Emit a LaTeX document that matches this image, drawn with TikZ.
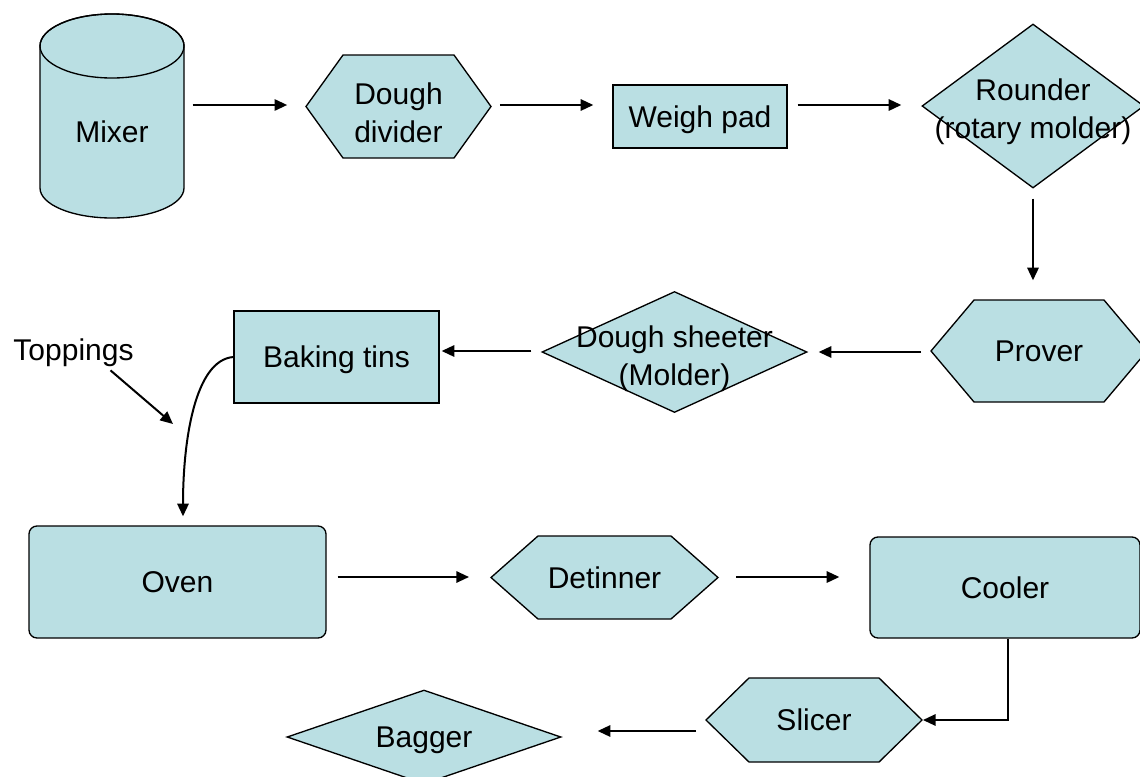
\documentclass[tikz,border=0pt]{standalone}
\usepackage{fontspec}
\setmainfont{Liberation Sans}
\usetikzlibrary{shapes.geometric,shapes.symbols,arrows.meta,calc}
\definecolor{tank}{RGB}{186,223,227}

\tikzset{every picture/.style={line width=0.75pt}}
\tikzset{
  unitbox/.style={draw, fill=tank, line width=1pt, inner sep=0pt, align=center,
    text depth=0pt, font=\fontsize{22.5}{28.5}\selectfont},
  hexa/.style={unitbox, signal, signal to=west and east, signal pointer angle=#1},
  rhomb/.style={unitbox, diamond, aspect=2.9},
  lbl/.style={inner sep=0pt, align=center, text depth=0pt, font=\fontsize{22.5}{28.5}\selectfont},
  flow/.style={-{Triangle[length=9.5pt,width=8.5pt]}, line width=1.5pt},
}

\begin{document}
\begin{tikzpicture}[x=0.75pt,y=0.75pt,yscale=-1,xscale=1]
\useasboundingbox (0,0) rectangle (1140,776);

% mixer tank
\draw [fill=tank, line width=1pt] (40,46) -- (40,188) arc [start angle=180, end angle=0, x radius=72, y radius=30] -- (184,46) arc [start angle=0, end angle=-180, x radius=72, y radius=32] -- cycle;
\draw [line width=1pt] (112,46) ellipse [x radius=72, y radius=32];
\node [lbl, minimum width=108pt] (mixer) at (112,132) {Mixer};

% top row
\node [hexa=108.6, minimum width=138.75pt, minimum height=77.25pt] (divider) at (398.5,106.5) {};
\node [lbl] (divider-t) at (398.5,113) {Dough\\divider};
\node [unitbox, minimum width=130.5pt, minimum height=47.25pt] (weigh) at (700,116.5) {Weigh pad};
\node [unitbox, diamond, minimum width=166.5pt, minimum height=123pt] (rounder) at (1033,106) {};
\node [lbl] (rounder-t) at (1033,109) {Rounder\\(rotary molder)};

% second row
\node [hexa=99.7, minimum width=162pt, minimum height=76.5pt] (prover) at (1039,351) {Prover};
\node [unitbox, diamond, minimum width=198.75pt, minimum height=90.75pt] (sheeter) at (674.5,352) {};
\node [lbl] (sheeter-t) at (674.5,356) {Dough sheeter\\(Molder)};
\node [unitbox, minimum width=153.75pt, minimum height=69pt] (tins) at (336.5,357) {Baking tins};
\node [lbl] (toppings) at (73.5,350) {Toppings};
\coordinate (drop) at (173,424);

% third row
\node [unitbox, rounded corners=6pt, minimum width=222.75pt, minimum height=84pt] (oven) at (177.5,582) {Oven};
\node [hexa=82.9, minimum width=170.25pt, minimum height=62.25pt] (detinner) at (604.5,577.5) {Detinner};
\node [unitbox, rounded corners=6pt, minimum width=202.5pt, minimum height=75.75pt] (cooler) at (1005,587.5) {Cooler};

% last row
\node [hexa=88.7, minimum width=162pt, minimum height=63pt] (slicer) at (814,720) {Slicer};
\node [rhomb, minimum width=205.5pt, minimum height=70.5pt] (bagger) at (424,737) {Bagger};

% connectors
\draw [flow] ($(mixer.east)+(8,-27)$) -- ($(divider.west)+(-18,-1.5)$);
\draw [flow] ($(divider.east)+(8,-1.5)$) -- ($(weigh.west)+(-19,-11.5)$);
\draw [flow] ($(weigh.east)+(10,-11.5)$) -- ($(rounder.west)+(-20,-1)$);
\draw [flow] ($(rounder.south)+(0,10)$) -- ($(rounder.south |- prover.north)+(0,-19)$);
\draw [flow] ($(prover.west)+(-9,1)$) -- ($(sheeter.east)+(11,0)$);
\draw [flow] ($(sheeter.west)+(-10,-1)$) -- ($(tins.east)+(2,-6)$);
\draw [flow] (tins.west) .. controls (195,360) and (183,440) .. ($(oven.north)+(5.5,-9)$);
\draw [flow] ($(toppings.south)+(37,9)$) -- (drop);
\draw [flow] ($(oven.east)+(11,-5)$) -- ($(detinner.west)+(-21,-0.5)$);
\draw [flow] ($(detinner.east)+(17,-0.5)$) -- ($(cooler.west)+(-30,-10.5)$);
\draw [flow] ($(cooler.south)+(3,0)$) |- (slicer.east);
\draw [flow] ($(slicer.west)+(-9,11)$) -- ($(bagger.east)+(36,-6)$);
\end{tikzpicture}
\end{document}
